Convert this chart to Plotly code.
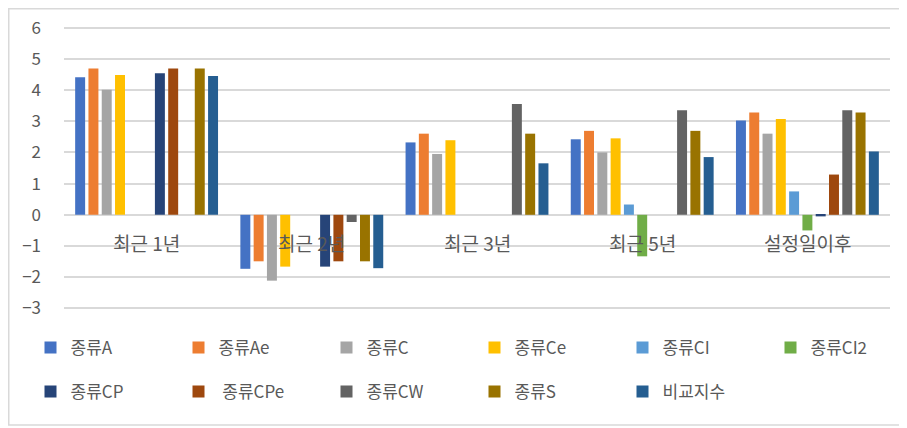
import plotly.graph_objects as go

categories = ["최근 1년", "최근 2년", "최근 3년", "최근 5년", "설정일이후"]
series_names = ["종류A", "종류Ae", "종류C", "종류Ce", "종류CI", "종류CI2",
                "종류CP", " 종류CPe", "종류CW", "종류S", "비교지수"]
values = {
    "종류A":    [4.41, -1.73, 2.32, 2.42, 3.02],
    "종류Ae":   [4.69, -1.49, 2.60, 2.69, 3.28],
    "종류C":    [4.01, -2.11, 1.95, 2.00, 2.60],
    "종류Ce":   [4.48, -1.66, 2.39, 2.45, 3.07],
    "종류CI":   [None, None, None, 0.33, 0.75],
    "종류CI2":  [None, None, None, -1.33, -0.50],
    "종류CP":   [4.54, -1.66, None, None, -0.05],
    " 종류CPe": [4.69, -1.49, None, None, 1.29],
    "종류CW":   [None, -0.23, 3.55, 3.35, 3.35],
    "종류S":    [4.69, -1.49, 2.60, 2.69, 3.28],
    "비교지수": [4.45, -1.71, 1.65, 1.85, 2.03],
}
colors = ["#4472C4", "#ED7D31", "#A5A5A5", "#FFC000", "#5B9BD5", "#70AD47",
          "#264478", "#9E480E", "#636363", "#997300", "#255E91"]
y_ticks = [-3, -2, -1, 0, 1, 2, 3, 4, 5, 6]

FONT = "Noto Sans CJK KR"
GRAY = "#595959"

# the page body has an 8px margin, so the figure is sized to fit the window
W, H = 899, 420
L, R, T, B = 56, 17, 18, 118
PW, PH = W - L - R, H - T - B


def px_x(p):
    return (p - L) / PW


def px_y(p):
    return (H - B - p) / PH


legend_ids = ["legend"] * 5 + ["legend3"] + ["legend2"] * 5

fig = go.Figure()
for i, name in enumerate(series_names):
    fig.add_trace(go.Bar(
        x=categories, y=values[name], name=name,
        marker=dict(color=colors[i], line=dict(width=0)),
        legend=legend_ids[i],
    ))

for c in categories:
    fig.add_annotation(x=c, y=-0.9, xref="x", yref="y", text=c, showarrow=False,
                       font=dict(family=FONT, size=19, color=GRAY))

fig.add_shape(type="rect", xref="paper", yref="paper",
              x0=px_x(0.75), x1=px_x(905), y0=px_y(417), y1=px_y(0.75),
              line=dict(color="#D9D9D9", width=1.5), fillcolor="rgba(0,0,0,0)", layer="below")

legend_common = dict(orientation="h", xref="paper", yref="paper",
                     xanchor="left", yanchor="middle", entrywidth=103, entrywidthmode="pixels",
                     font=dict(family=FONT, size=17, color=GRAY), bgcolor="rgba(0,0,0,0)",
                     itemwidth=30, tracegroupgap=0)

fig.update_layout(
    width=W, height=H,
    margin=dict(l=L, r=R, t=T, b=B, autoexpand=False),
    paper_bgcolor="white", plot_bgcolor="white",
    barmode="group", bargap=0.115, bargroupgap=0.25,
    font=dict(family=FONT, color=GRAY),
    legend=dict(x=px_x(22.5), y=px_y(340), **legend_common),
    legend3=dict(x=px_x(22.5 + 5 * 148), y=px_y(340), **legend_common),
    legend2=dict(x=px_x(22.5), y=px_y(384), **legend_common),
    xaxis=dict(showticklabels=False, showgrid=False, zeroline=False, showline=False, ticks="",
               automargin=False),
    yaxis=dict(range=[-3.05, 6.05], tickvals=y_ticks, showgrid=True, gridcolor="#D9D9D9", gridwidth=1.5,
               zeroline=True, zerolinecolor="#D9D9D9", zerolinewidth=1.5, showline=False,
               tickfont=dict(family=FONT, size=17, color=GRAY), ticklabelstandoff=22,
               automargin=False),
)

fig.write_html("out.html")
